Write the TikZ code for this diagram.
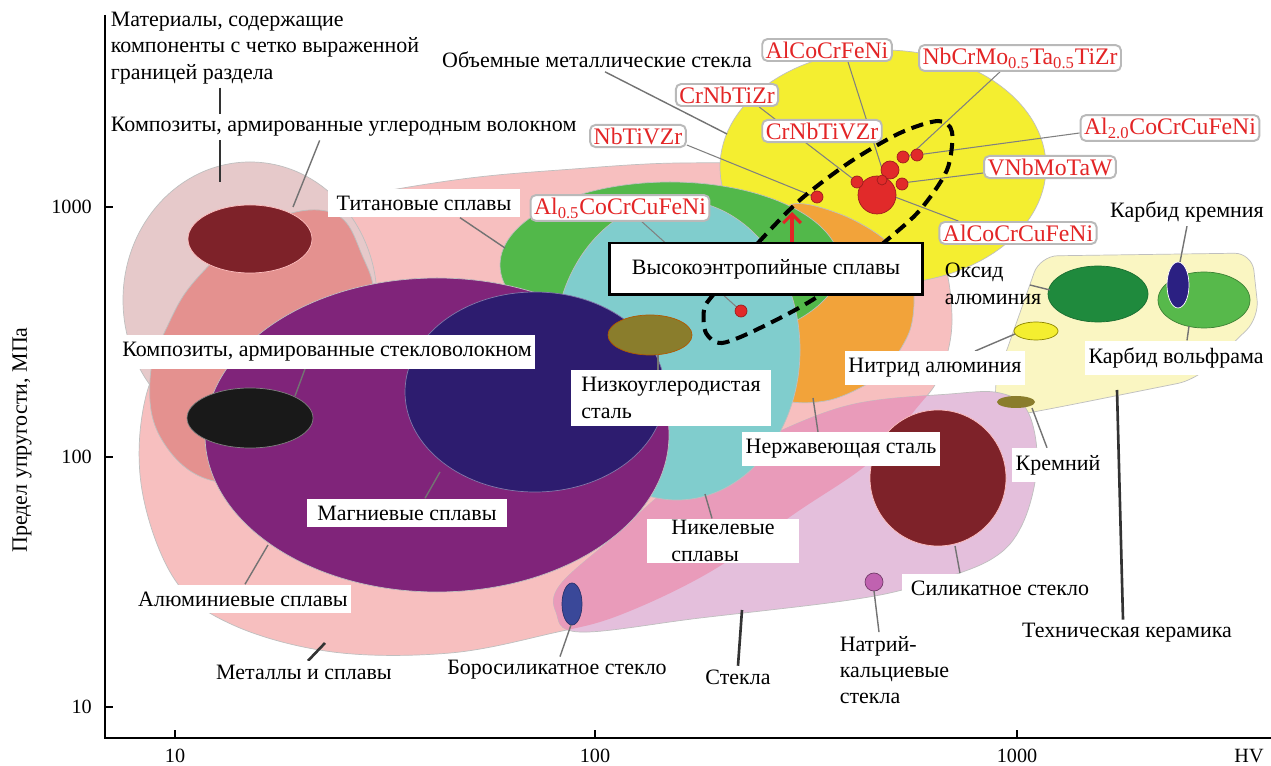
\documentclass[tikz,border=0pt]{standalone}
\usepackage{fontspec}
\setmainfont{Liberation Serif}
\usetikzlibrary{positioning,arrows.meta}
\pgfdeclarelayer{shapes}
\pgfdeclarelayer{leads}
\pgfsetlayers{shapes,leads,main}

\definecolor{envel}{HTML}{E6C9CA}
\definecolor{metal}{HTML}{F7BFBF}
\definecolor{salmon}{HTML}{E4918F}
\definecolor{glass}{HTML}{E4BFDC}
\definecolor{nickel}{HTML}{E99BBA}
\definecolor{ceram}{HTML}{FAF6C2}
\definecolor{yellowb}{HTML}{F4EE30}
\definecolor{orangeb}{HTML}{F2A33A}
\definecolor{greenb}{HTML}{52B84A}
\definecolor{cyanb}{HTML}{80CDCD}
\definecolor{purpleb}{HTML}{80247A}
\definecolor{navyb}{HTML}{2D1C6F}
\definecolor{oliveb}{HTML}{8A7D2C}
\definecolor{darkred}{HTML}{7E2229}
\definecolor{borob}{HTML}{3A4899}
\definecolor{sodab}{HTML}{C062B0}
\definecolor{alox}{HTML}{1F8A3D}
\definecolor{wcg}{HTML}{57B94B}
\definecolor{sicb}{HTML}{2B2082}
\definecolor{heared}{HTML}{E32526}
\definecolor{dotred}{HTML}{E12A2A}

\begin{document}
\begin{tikzpicture}[x=0.02cm, y=-0.02cm,
  lbl/.style={fill=white, inner sep=2pt, font=\fontsize{12.5}{15}\selectfont, align=left},
  hef/.style={draw=gray!55, line width=1.1pt, rounded corners=3pt, fill=white, text=heared,
    inner xsep=2pt, inner ysep=1.5pt, font=\fontsize{13.5}{16}\selectfont},
  heabox/.style={draw=black, line width=1.7pt, fill=white, minimum width=6.26cm,
    minimum height=1.04cm, inner sep=0pt, font=\fontsize{12.5}{15}\selectfont},
  tick/.style={inner sep=0.5pt, font=\fontsize{11.5}{14}\selectfont},
  lead/.style={draw=black!55, line width=0.8pt},
  leadt/.style={draw=black!50, line width=0.6pt},
  leadd/.style={draw=black!80, line width=1.5pt},
  region/.style={draw=black!25, line width=0.4pt},
  dot/.style={fill=dotred, draw=dotred!70!black, line width=0.4pt}]

\useasboundingbox (0,0) rectangle (1271,766);

\begin{pgfonlayer}{shapes}
\fill[white] (0,0) rectangle (1271,766);
\path[fill=ceram, region, rounded corners=10pt] (1040,256) -- (1252,253) -- (1259,318) -- (1195,380)
  -- (1070,405) -- (1002,418) -- (992,392) -- cycle;
\path[save path=\metp] plot[smooth cycle, tension=0.6] coordinates {(380,192) (470,178) (560,170)
  (680,163) (800,168) (900,200) (940,250) (952,320) (940,375) (915,410) (870,462) (797,512)
  (710,572) (620,615) (553,633) (450,653) (333,652) (233,625) (175,580) (142,490) (145,400)
  (180,320) (220,260) (270,222) (320,205)};
\path[save path=\glp] plot[smooth cycle, tension=0.6] coordinates {(556,612) (560,585) (610,540)
  (680,480) (760,440) (850,405) (950,394) (1000,393) (1028,412) (1037,465) (1022,525) (990,560)
  (920,585) (850,600) (700,618) (580,632)};
\path[fill=metal, region, use path=\metp];
\path[fill=glass, region, use path=\glp];
\begin{scope}
  \path[clip, use path=\glp];
  \path[fill=nickel, use path=\metp];
\end{scope}
\path[fill=envel, region] (250,300) ellipse [x radius=127, y radius=138];
\path[fill=salmon, region] plot[smooth cycle, tension=0.7] coordinates {(330,212) (362,255) (372,310)
  (340,400) (270,470) (210,480) (162,440) (150,380) (168,325) (200,275) (260,225)};
\path[fill=yellowb, region] (883,167) ellipse [x radius=163, y radius=117];
\path[fill=orangeb, region] plot[smooth cycle] coordinates {(790,205) (840,214) (885,240) (912,280)
  (910,330) (880,375) (830,400) (780,398) (750,350) (760,250)};
\path[fill=greenb, region] (670,265) ellipse [x radius=170, y radius=83];
\path[fill=cyanb, region] (677,350) ellipse [x radius=123, y radius=150];
\path[fill=purpleb, region] (437,435) ellipse [x radius=232, y radius=157];
\path[fill=navyb, draw=navyb!60!white] (535,392) ellipse [x radius=130, y radius=100];
\path[fill=oliveb, draw=orange!70!black] (650,335) ellipse [x radius=42, y radius=20];
\path[fill=darkred, draw=pink] (250,239) ellipse [x radius=62, y radius=34];
\path[fill=black!90, draw=gray] (250,418) ellipse [x radius=63, y radius=30];
\path[fill=darkred, draw=pink] (938,478) circle [radius=68];
\path[fill=borob, draw=borob!70!black] (572,604) ellipse [x radius=10, y radius=21];
\path[fill=sodab, draw=sodab!60!black] (874,582) circle [radius=9];
\path[fill=alox, draw=alox!80!black] (1098,294) ellipse [x radius=50, y radius=28];
\path[fill=wcg, draw=wcg!70!black] (1204,300) ellipse [x radius=46, y radius=28];
\path[fill=sicb, draw=white] (1178,285) ellipse [x radius=11, y radius=23];
\path[fill=yellowb, draw=olive] (1036,331) ellipse [x radius=22, y radius=9];
\path[fill=oliveb] (1016,402) ellipse [x radius=19, y radius=6];
\end{pgfonlayer}

\path (107,48) node[lbl, anchor=west] (mat) {Материалы, содержащие\\компоненты с четко выраженной\\границей раздела};
\path (107,127) node[lbl, anchor=west] (cfc) {Композиты, армированные углеродным волокном};
\path (597,60) node[lbl] (bmg) {Объемные металлические стекла};
\path (424,203) node[lbl, inner xsep=5pt, inner ysep=4pt] (ti) {Титановые сплавы};
\path (327,352) node[lbl, inner ysep=4pt] (gfc) {Композиты, армированные стекловолокном};
\path (671,398) node[lbl, inner xsep=6pt, inner ysep=4pt] (lcs) {Низкоуглеродистая\\сталь};
\path (407,513) node[lbl, inner xsep=6pt, inner ysep=4pt] (mg) {Магниевые сплавы};
\path (243,599) node[lbl, inner ysep=4pt] (al) {Алюминиевые сплавы};
\path (304,672) node[lbl] (met) {Металлы и сплавы};
\path (557,670) node[lbl] (boro) {Боросиликатное стекло};
\path (738,677) node[lbl] (gl) {Стекла};
\path (723,541) node[lbl, inner xsep=14pt, inner ysep=1pt] (ni) {Никелевые\\сплавы};
\path (841,449) node[lbl, inner ysep=4pt] (ss) {Нержавеющая сталь};
\path (935,368) node[lbl, inner ysep=4pt] (aln) {Нитрид алюминия};
\path (941,284) node[lbl, anchor=west, fill=none] (ox) {Оксид\\алюминия};
\path (1187,212) node[lbl] (sic) {Карбид кремния};
\path (1176,358) node[lbl, inner ysep=4pt] (wc) {Карбид вольфрама};
\path (1058,465) node[lbl, inner ysep=4pt] (si) {Кремний};
\path (1000,588) node[lbl, inner xsep=5pt, inner ysep=4pt] (sg) {Силикатное стекло};
\path (836,670) node[lbl, anchor=west] (slg) {Натрий-\\кальциевые\\стекла};
\path (1127,633) node[lbl] (tc) {Техническая керамика};

\path (827,50) node[hef] (acfn) {AlCoCrFeNi};
\path (1020,58) node[hef] (ncm) {NbCrMo\textsubscript{0.5}Ta\textsubscript{0.5}TiZr};
\path (727,95) node[hef] (cnz) {CrNbTiZr};
\path (822,131) node[hef] (cnvz) {CrNbTiVZr};
\path (638,136) node[hef] (nvz) {NbTiVZr};
\path (1170,128) node[hef] (a20) {Al\textsubscript{2.0}CoCrCuFeNi};
\path (1050,167) node[hef] (vnb) {VNbMoTaW};
\path (1018,233) node[hef] (acc) {AlCoCrCuFeNi};
\path (620,208) node[hef] (a05) {Al\textsubscript{0.5}CoCrCuFeNi};

\begin{pgfonlayer}{leads}
\path (220,182) coordinate (matT) (293,207) coordinate (cfcT) (727,134) coordinate (bmgT)
  (505,248) coordinate (tiT) (295,396) coordinate (gfcT) (268,545) coordinate (alT)
  (325,643) coordinate (metT) (440,472) coordinate (mgT) (658,355) coordinate (lcsT)
  (813,398) coordinate (ssT) (705,494) coordinate (niT) (571,625) coordinate (boroT)
  (742,610) coordinate (glT) (874,591) coordinate (sodaT) (955,546) coordinate (sgT)
  (1117,390) coordinate (tcT) (1032,408) coordinate (siT) (1015,334) coordinate (alnT)
  (1050,290) coordinate (oxT) (1180,262) coordinate (sicT) (1189,326) coordinate (wcT);
\path (885,178) coordinate (acfnT) (905,160) coordinate (ncmT) (917,155) coordinate (a20T)
  (902,183) coordinate (vnbT) (895,197) coordinate (accT) (857,182) coordinate (cnzT)
  (815,197) coordinate (nvzT) (741,311) coordinate (a05T);
\draw[leadd] (mat.south -| matT) -- (matT);
\draw[lead] (cfc.south) ++(-24,0) -- (cfcT);
\draw[lead] (bmg.south) ++(8,0) -- (bmgT);
\draw[lead] (ti.south) ++(36,0) -- (tiT);
\draw[lead] (gfc.south) ++(-22,0) -- (gfcT);
\draw[lead] (al.north) ++(2,0) -- (alT);
\draw[leadd] (met.north) ++(4,0) -- (metT);
\draw[lead] (mg.north) ++(18,0) -- (mgT);
\draw[lead] (lcs.north -| lcsT) -- (lcsT);
\draw[lead] (ss.north) ++(-23,0) -- (ssT);
\draw[lead] (ni.north) ++(-11,0) -- (niT);
\draw[lead] (boro.north) ++(3,0) -- (boroT);
\draw[leadd] (gl.north) -- (glT);
\draw[lead] (slg.north west) ++(43,0) -- (sodaT);
\draw[lead] (sg.north) ++(-40,0) -- (sgT);
\draw[leadd] (tc.north) ++(-4,0) -- (tcT);
\draw[lead] (si.north) ++(-11,0) -- (siT);
\draw[lead] (aln.north) ++(40,0) -- (alnT);
\draw[lead] (ox.east) ++(-15,1) -- (oxT);
\draw[lead] (sic.south) -- (sicT);
\draw[lead] (wc.north) ++(11,0) -- (wcT);
\draw[leadt] (acfn.south) ++(21,0) -- (acfnT);
\draw[leadt] (ncm.south) ++(-20,0) -- (ncmT);
\draw[leadt] (a20.west) ++(0,5) -- (a20T);
\draw[leadt] (vnb.west) ++(0,6) -- (vnbT);
\draw[leadt] (acc.north west) ++(20,0) -- (accT);
\draw[leadt] (cnz.south east) ++(-20,0) -- (cnzT);
\draw[leadt] (nvz.south east) ++(0,-3) -- (nvzT);
\draw[leadt] (a05.south) ++(22,0) -- (a05T);
\end{pgfonlayer}

\fill[dot] (877,195) circle [radius=19];
\foreach \x/\y/\r in {890/170/9, 857/182/6, 882/180/5, 902/184/6, 903/157/6, 917/155/6, 817/197/6, 741/311/6}
  \fill[dot] (\x,\y) circle [radius=\r];

\draw[black, line width=2.3pt, dash pattern=on 7pt off 4pt] plot[smooth cycle] coordinates {(713,295)
  (758,243) (800,200) (850,162) (900,133) (938,121) (952,132) (947,170) (920,210) (887,240)
  (820,295) (760,328) (722,343) (706,333) (704,310)};

\path (766,269) node[heabox] (hea) {Высокоэнтропийные сплавы};
\path (792,212) coordinate (arrT);
\draw[-{Straight Barb[length=5pt, width=10pt]}, heared, line width=1.8pt] (hea.north -| arrT) -- (arrT);

\draw[line width=1.1pt] (105,15) -- (105,738) -- (1271,738);
\foreach \y/\t in {207/1000, 457/100, 707/10} {
  \draw[line width=1.1pt] (105,\y) -- (113,\y);
  \path (93,\y) node[tick, anchor=east] (yt\t) {\t};
}
\foreach \x/\t in {175/10, 595/100, 1017/1000} {
  \draw[line width=1.1pt] (\x,738) -- (\x,730);
  \path (\x,756) node[tick] (xt\t) {\t};
}
\path (1249,756) node[tick] (hv) {HV};
\path (22,440) node[rotate=90, font=\fontsize{12.5}{15}\selectfont] (ylab) {Предел упругости, МПа};
\end{tikzpicture}
\end{document}
